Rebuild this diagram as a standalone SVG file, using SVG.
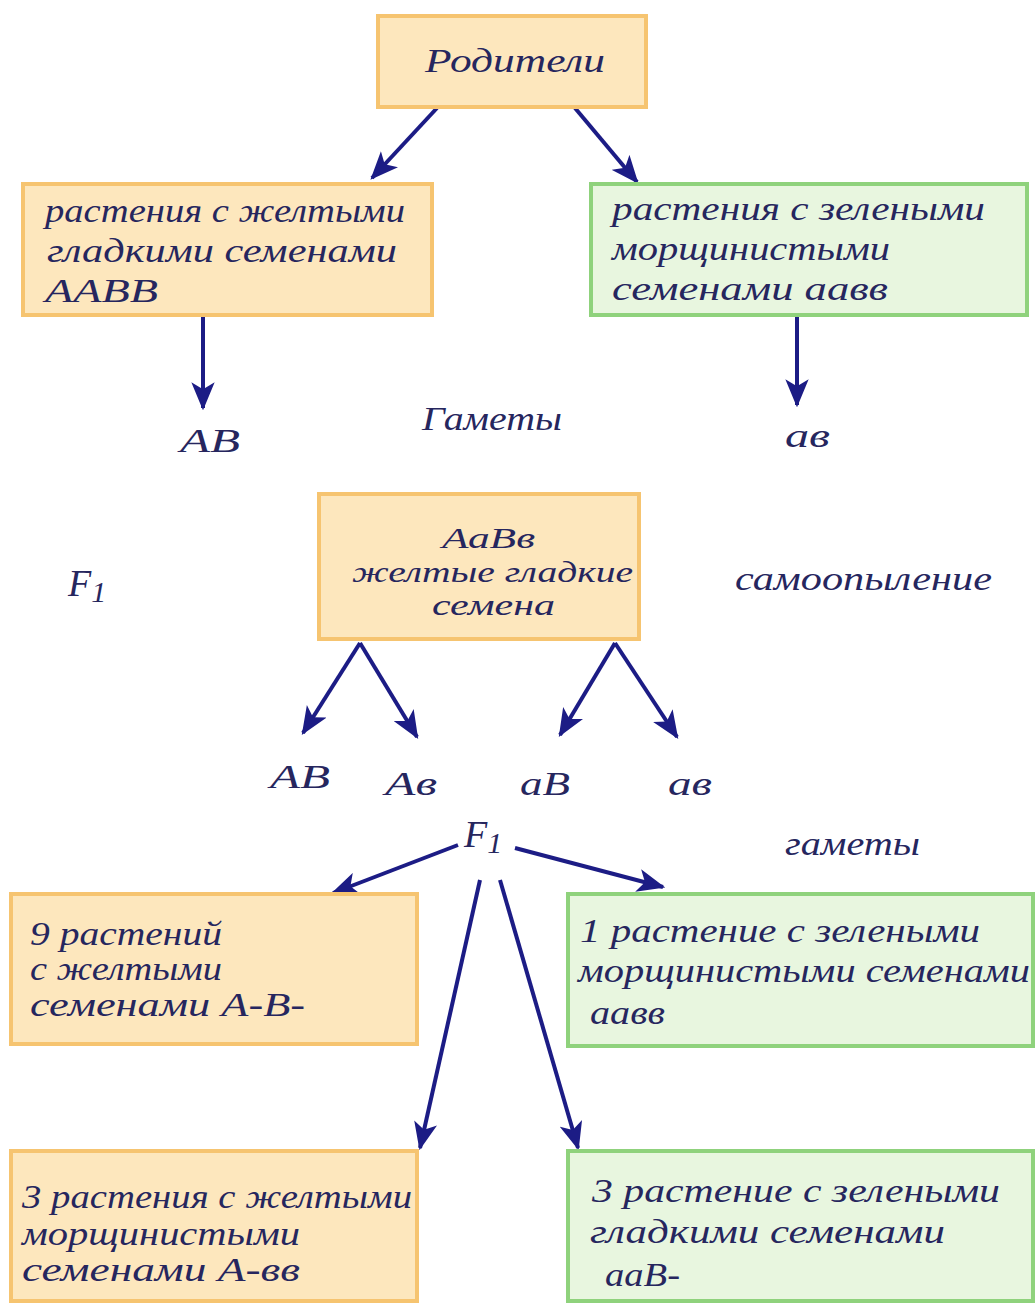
<svg xmlns="http://www.w3.org/2000/svg" width="1035" height="1303" viewBox="0 0 1035 1303">
<style>
.y{fill:#fde7bd;stroke:#f6c470;stroke-width:4}
.g{fill:#e8f6df;stroke:#8fd27c;stroke-width:4}
text{font-family:"Liberation Serif","Times New Roman",serif;font-style:italic;font-size:34px;fill:#26265e}
.s{font-size:30px}
.f{font-size:38px}
.ar{stroke:#1c1c85;stroke-width:4;fill:none;marker-end:url(#ah)}
</style>
<defs>
<marker id="ah" viewBox="0 0 12 10" refX="11" refY="5" markerWidth="7" markerHeight="6" orient="auto" markerUnits="strokeWidth">
<path d="M0,0 L12,5 L0,10 L3,5 z" fill="#1c1c85"/>
</marker>
</defs>
<rect width="1035" height="1303" fill="#fff"/>
<g id="connectors">
<line class="ar" x1="437" y1="108" x2="372" y2="178"/>
<line class="ar" x1="575" y1="108" x2="637" y2="182"/>
<line class="ar" x1="203" y1="315" x2="203" y2="408"/>
<line class="ar" x1="797" y1="315" x2="797" y2="405"/>
<line class="ar" x1="360" y1="643" x2="303" y2="733"/>
<line class="ar" x1="360" y1="643" x2="417" y2="737"/>
<line class="ar" x1="615" y1="643" x2="560" y2="735"/>
<line class="ar" x1="615" y1="643" x2="677" y2="737"/>
<line class="ar" x1="458" y1="845" x2="333" y2="893"/>
<line class="ar" x1="515" y1="848" x2="663" y2="887"/>
<line class="ar" x1="480" y1="880" x2="420" y2="1148"/>
<line class="ar" x1="500" y1="880" x2="578" y2="1148"/>
</g>
<g id="parents">
<rect class="y" x="378" y="16" width="268" height="91"/>
<text x="425" y="72" textLength="180" lengthAdjust="spacingAndGlyphs">Родители</text>
</g>
<g id="p1">
<rect class="y" x="23" y="184" width="409" height="131"/>
<text x="45" y="222" textLength="360" lengthAdjust="spacingAndGlyphs">растения с желтыми</text>
<text x="47" y="262" textLength="350" lengthAdjust="spacingAndGlyphs">гладкими семенами</text>
<text x="45" y="302" textLength="113" lengthAdjust="spacingAndGlyphs">ААВВ</text>
</g>
<g id="p2">
<rect class="g" x="591" y="184" width="436" height="131"/>
<text x="612" y="220" textLength="373" lengthAdjust="spacingAndGlyphs">растения с зелеными</text>
<text x="612" y="260" textLength="278" lengthAdjust="spacingAndGlyphs">морщинистыми</text>
<text x="612" y="300" textLength="276" lengthAdjust="spacingAndGlyphs">семенами  аавв</text>
</g>
<g id="gam1"><text x="180" y="452" textLength="60" lengthAdjust="spacingAndGlyphs">АВ</text></g>
<g id="gam-label"><text x="422" y="430" textLength="140" lengthAdjust="spacingAndGlyphs">Гаметы</text></g>
<g id="gam2"><text x="785" y="447" textLength="45" lengthAdjust="spacingAndGlyphs">ав</text></g>
<g id="f1box">
<rect class="y" x="319" y="494" width="320" height="145"/>
<text class="s" x="442" y="548" textLength="93" lengthAdjust="spacingAndGlyphs">АаВв</text>
<text class="s" x="352" y="582" textLength="281" lengthAdjust="spacingAndGlyphs">желтые гладкие</text>
<text class="s" x="432" y="615" textLength="123" lengthAdjust="spacingAndGlyphs">семена</text>
</g>
<g id="f1label"><text class="f" x="68" y="596">F<tspan font-size="30" dy="6">1</tspan></text></g>
<g id="self"><text x="735" y="590" textLength="257" lengthAdjust="spacingAndGlyphs">самоопыление</text></g>
<g id="g-AB"><text x="270" y="788" textLength="60" lengthAdjust="spacingAndGlyphs">АВ</text></g>
<g id="g-Ab"><text x="385" y="795" textLength="52" lengthAdjust="spacingAndGlyphs">Ав</text></g>
<g id="g-aB"><text x="520" y="795" textLength="50" lengthAdjust="spacingAndGlyphs">аВ</text></g>
<g id="g-ab"><text x="668" y="795" textLength="44" lengthAdjust="spacingAndGlyphs">ав</text></g>
<g id="f1b"><text class="f" x="464" y="847">F<tspan font-size="30" dy="6">1</tspan></text></g>
<g id="gam3"><text x="785" y="855" textLength="135" lengthAdjust="spacingAndGlyphs">гаметы</text></g>
<g id="r9">
<rect class="y" x="11" y="894" width="406" height="150"/>
<text x="30" y="945" textLength="192" lengthAdjust="spacingAndGlyphs">9 растений</text>
<text x="30" y="980" textLength="192" lengthAdjust="spacingAndGlyphs">с желтыми</text>
<text x="30" y="1016" textLength="275" lengthAdjust="spacingAndGlyphs">семенами  А-В-</text>
</g>
<g id="r1">
<rect class="g" x="568" y="894" width="465" height="152"/>
<text x="580" y="942" textLength="400" lengthAdjust="spacingAndGlyphs">1 растение с зелеными</text>
<text x="578" y="982" textLength="452" lengthAdjust="spacingAndGlyphs">морщинистыми семенами</text>
<text x="590" y="1024" textLength="75" lengthAdjust="spacingAndGlyphs">аавв</text>
</g>
<g id="r3y">
<rect class="y" x="11" y="1151" width="406" height="150"/>
<text x="22" y="1208" textLength="390" lengthAdjust="spacingAndGlyphs">3 растения с желтыми</text>
<text x="22" y="1245" textLength="278" lengthAdjust="spacingAndGlyphs">морщинистыми</text>
<text x="22" y="1281" textLength="278" lengthAdjust="spacingAndGlyphs">семенами  А-вв</text>
</g>
<g id="r3g">
<rect class="g" x="568" y="1151" width="465" height="150"/>
<text x="592" y="1202" textLength="408" lengthAdjust="spacingAndGlyphs">3 растение с зелеными</text>
<text x="590" y="1243" textLength="355" lengthAdjust="spacingAndGlyphs">гладкими семенами</text>
<text x="605" y="1286" textLength="75" lengthAdjust="spacingAndGlyphs">ааВ-</text>
</g>
</svg>
